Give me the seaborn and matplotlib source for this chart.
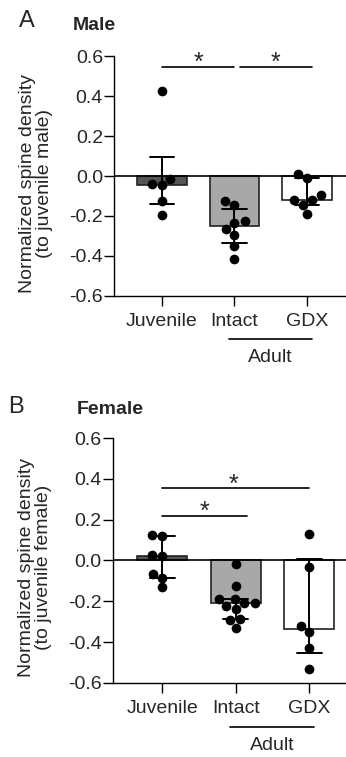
import numpy as np
import seaborn as sns
import matplotlib.pyplot as plt
import pandas as pd

# groups on the x axis
categories = ["Juvenile", "Intact", "GDX"]
bar_colors = ["#555555", "#a8a8a8", "#ffffff"]

# individual animals
male_juvenile = [0.427, -0.016, -0.047, -0.038, -0.125, -0.193]
male_intact = [-0.125, -0.147, -0.225, -0.233, -0.263, -0.293, -0.352, -0.413]
male_gdx = [0.008, -0.010, -0.095, -0.120, -0.120, -0.143, -0.188]

female_juvenile = [0.122, 0.126, 0.028, 0.020, -0.064, -0.084, -0.132]
female_intact = [-0.016, -0.126, -0.188, -0.188, -0.210, -0.210, -0.224,
                 -0.236, -0.285, -0.294, -0.333]
female_gdx = [0.130, -0.031, -0.321, -0.349, -0.427, -0.533]

yticks = [-0.6, -0.4, -0.2, 0.0, 0.2, 0.4, 0.6]
ytick_labels = ["-0.6", "-0.4", "-0.2", "0.0", "0.2", "0.4", "0.6"]


def make_df(juv, intact, gdx):
    return pd.DataFrame({
        "group": ["Juvenile"] * len(juv) + ["Intact"] * len(intact) + ["GDX"] * len(gdx),
        "value": juv + intact + gdx,
    })


def iqr(v):
    # Prism style quartiles
    return tuple(np.percentile(v, [25, 75], method="weibull"))


sns.set_style("ticks")
plt.rcParams["font.family"] = ["Liberation Sans", "DejaVu Sans"]
plt.rcParams["axes.unicode_minus"] = False
plt.rcParams["axes.linewidth"] = 1.0

fig = plt.figure(figsize=(3.46, 7.57), dpi=100)
ax_m = fig.add_axes([114 / 346, 0.609, 232 / 346, 0.317])
ax_f = fig.add_axes([112.7 / 346, 0.0978, 233.3 / 346, 0.3236])


def draw_panel(ax, df, ylabel, xlim):
    sns.barplot(data=df, x="group", y="value", hue="group", order=categories,
                hue_order=categories, palette=bar_colors, legend=False,
                estimator="median", errorbar=iqr, capsize=0.34, width=0.68,
                edgecolor="#222222", linewidth=1.2,
                err_kws={"color": "black", "linewidth": 1.4}, ax=ax)
    sns.swarmplot(data=df, x="group", y="value", order=categories, color="black",
                  size=7, zorder=3, ax=ax)
    ax.axhline(0, color="black", linewidth=1.2, zorder=2.5)
    ax.set_ylim(-0.6, 0.6)
    ax.set_xlim(*xlim)
    ax.set_yticks(yticks)
    ax.set_yticklabels(ytick_labels)
    ax.set_xlabel("")
    ax.set_ylabel(ylabel, fontsize=14, linespacing=1.0)
    ax.yaxis.set_label_coords(-0.262, 0.47)
    ax.tick_params(axis="both", labelsize=14, length=7, width=1.0, color="black")
    ax.tick_params(axis="y", pad=1)
    ax.tick_params(axis="x", pad=5)
    sns.despine(ax=ax)
    for s in ["left", "bottom"]:
        ax.spines[s].set_color("black")

    # "Adult" grouping under Intact and GDX
    tr = ax.get_xaxis_transform()
    ax.plot([0.92, 2.07], [-0.18, -0.18], color="black", lw=1.2,
            transform=tr, clip_on=False)
    ax.text(1.5, -0.255, "Adult", transform=tr, ha="center", va="center",
            fontsize=14)


draw_panel(ax_m, make_df(male_juvenile, male_intact, male_gdx),
           "Normalized spine density\n(to juvenile male)", (-0.662, 2.538))
draw_panel(ax_f, make_df(female_juvenile, female_intact, female_gdx),
           "Normalized spine density\n(to juvenile female)", (-0.675, 2.50))

# significance bars
ax_m.plot([0.0, 0.99], [0.545, 0.545], color="black", lw=1.2)
ax_m.plot([1.07, 2.07], [0.545, 0.545], color="black", lw=1.2)
ax_m.text(0.5, 0.505, "*", ha="center", va="bottom", fontsize=18)
ax_m.text(1.57, 0.505, "*", ha="center", va="bottom", fontsize=18)

ax_f.plot([0.0, 1.15], [0.22, 0.22], color="black", lw=1.2)
ax_f.plot([0.0, 2.0], [0.354, 0.354], color="black", lw=1.2)
ax_f.text(0.58, 0.18, "*", ha="center", va="bottom", fontsize=18)
ax_f.text(0.965, 0.314, "*", ha="center", va="bottom", fontsize=18)

# panel labels and titles
fig.text(27 / 346, 1 - 21 / 757, "A", ha="center", va="center", fontsize=17)
fig.text(73 / 346, 1 - 25 / 757, "Male", ha="left", va="center",
         fontsize=14, fontweight="bold")
fig.text(16 / 346, 1 - 407 / 757, "B", ha="center", va="center", fontsize=17)
fig.text(77 / 346, 1 - 410 / 757, "Female", ha="left", va="center",
         fontsize=14, fontweight="bold")

fig.savefig("out.png", dpi=100)
